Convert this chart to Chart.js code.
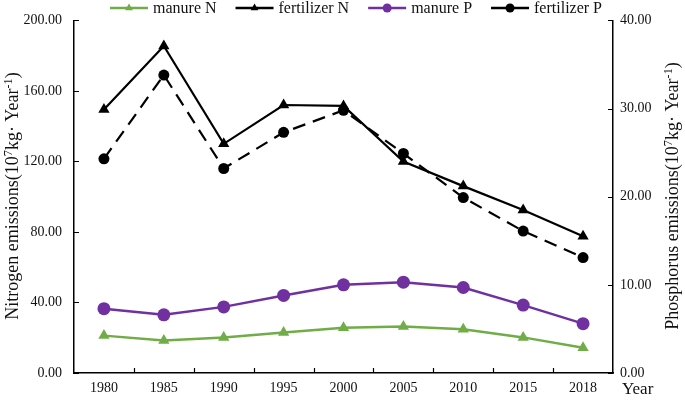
<!DOCTYPE html>
<html>
<head>
<meta charset="utf-8">
<script src="https://cdn.jsdelivr.net/npm/chart.js@4.4.1/dist/chart.umd.min.js"></script>
<style>
  html, body { margin: 0; padding: 0; background: #fff; }
  #wrap { width: 685px; height: 402px; }
</style>
</head>
<body>
<div id="wrap"><canvas id="c"></canvas></div>
<script>
const years = ['1980', '1985', '1990', '1995', '2000', '2005', '2010', '2015', '2018'];

// left axis (10^7 kg/year)
const manureN = [21.2, 18.5, 20.2, 23.0, 25.7, 26.4, 24.8, 20.2, 14.3];
const fertilizerN = [149.5, 185.5, 130.0, 152.0, 151.5, 120.0, 106.0, 92.5, 77.5];

// right axis (10^7 kg/year)
const manureP = [7.3, 6.6, 7.5, 8.8, 10.0, 10.3, 9.7, 7.7, 5.6];
const fertilizerP = [24.3, 33.8, 23.2, 27.3, 29.8, 24.9, 19.9, 16.1, 13.1];

const leftTicks = [0, 40, 80, 120, 160, 200];
const rightTicks = [0, 10, 20, 30, 40];

const SERIF = '"Liberation Serif", "Times New Roman", serif';
const GREEN = '#70ad47';
const PURPLE = '#7030a0';

// rich text with superscripts, drawn centred at (x, y)
function drawRich(ctx, segs, x, y, angle, size) {
    ctx.save();
    ctx.translate(x, y);
    ctx.rotate(angle);
    ctx.textBaseline = 'alphabetic';
    ctx.textAlign = 'left';
    let total = 0;
    segs.forEach(s => {
        ctx.font = (s.sup ? size * 0.68 : size) + 'px ' + SERIF;
        s.w = ctx.measureText(s.t).width;
        total += s.w;
    });
    let cx = -total / 2;
    segs.forEach(s => {
        ctx.font = (s.sup ? size * 0.68 : size) + 'px ' + SERIF;
        ctx.fillText(s.t, cx, size * 0.35 - (s.sup ? size * 0.36 : 0));
        cx += s.w;
    });
    ctx.restore();
}

const extras = {
    id: 'extras',
    afterDraw(chart) {
        const ctx = chart.ctx;
        const area = chart.chartArea;
        const y = chart.scales.y, y1 = chart.scales.y1, x = chart.scales.x;
        ctx.save();
        ctx.strokeStyle = '#000';
        ctx.lineWidth = 1.2;
        // inward tick marks
        ctx.beginPath();
        leftTicks.forEach(v => {
            const p = Math.round(y.getPixelForValue(v)) + 0.5;
            ctx.moveTo(area.left, p); ctx.lineTo(area.left + 5, p);
        });
        rightTicks.forEach(v => {
            const p = Math.round(y1.getPixelForValue(v)) + 0.5;
            ctx.moveTo(area.right, p); ctx.lineTo(area.right - 5, p);
        });
        for (let i = 0; i < years.length - 1; i++) {
            const p = Math.round((x.getPixelForTick(i) + x.getPixelForTick(i + 1)) / 2) + 0.5;
            ctx.moveTo(p, area.bottom); ctx.lineTo(p, area.bottom - 5);
        }
        ctx.stroke();

        // axis titles
        ctx.fillStyle = '#111';
        const unit = () => [{t: 'emissions(10'}, {t: '7', sup: true}, {t: 'kg· Year'}, {t: '-1', sup: true}, {t: ')'}];
        drawRich(ctx, [{t: 'Nitrogen '}].concat(unit()), 12, 196, -Math.PI / 2, 18);
        drawRich(ctx, [{t: 'Phosphorus '}].concat(unit()), 672, 196, -Math.PI / 2, 18);
        ctx.font = '17px ' + SERIF;
        ctx.textAlign = 'left';
        ctx.textBaseline = 'middle';
        ctx.fillText('Year', 622, 390);

        // legend: line with marker
        let lx = 110;
        const ly = 8;
        ctx.font = '16px ' + SERIF;
        chart.data.datasets.forEach(ds => {
            ctx.strokeStyle = ds.borderColor;
            ctx.lineWidth = 2.5;
            ctx.setLineDash([]);
            ctx.beginPath();
            ctx.moveTo(lx, ly); ctx.lineTo(lx + 38, ly);
            ctx.stroke();
            ctx.fillStyle = ds.borderColor;
            Chart.helpers.drawPoint(ctx, {pointStyle: ds.pointStyle, radius: 4.5, borderWidth: 0, rotation: 0}, lx + 19, ly);
            ctx.fillStyle = '#111';
            ctx.textAlign = 'left';
            ctx.textBaseline = 'middle';
            ctx.fillText(ds.label, lx + 43, ly + 1);
            lx += 43 + ctx.measureText(ds.label).width + 19;
        });
        ctx.restore();
    }
};

new Chart(document.getElementById('c'), {
    type: 'line',
    data: {
        labels: years,
        datasets: [
            {
                label: 'manure N', data: manureN, yAxisID: 'y',
                borderColor: GREEN, backgroundColor: GREEN, borderWidth: 2.5,
                pointStyle: 'triangle', pointRadius: 6.5, pointBorderWidth: 0
            },
            {
                label: 'fertilizer N', data: fertilizerN, yAxisID: 'y',
                borderColor: '#000', backgroundColor: '#000', borderWidth: 2.2,
                pointStyle: 'triangle', pointRadius: 6.5, pointBorderWidth: 0
            },
            {
                label: 'manure P', data: manureP, yAxisID: 'y1',
                borderColor: PURPLE, backgroundColor: PURPLE, borderWidth: 2.5,
                pointStyle: 'circle', pointRadius: 6.5, pointBorderWidth: 0
            },
            {
                label: 'fertilizer P', data: fertilizerP, yAxisID: 'y1',
                borderColor: '#000', backgroundColor: '#000', borderWidth: 2.2,
                borderDash: [13, 8],
                pointStyle: 'circle', pointRadius: 5.5, pointBorderWidth: 0
            }
        ]
    },
    options: {
        responsive: true,
        maintainAspectRatio: false,
        animation: false,
        layout: { padding: { top: 13, left: 0, right: 0, bottom: 0 } },
        plugins: {
            legend: { display: false },
            tooltip: { enabled: false }
        },
        scales: {
            x: {
                type: 'category',
                offset: true,
                grid: { display: false, drawTicks: false },
                border: { display: true, color: '#000', width: 1.5 },
                ticks: { color: '#111', font: { family: SERIF, size: 14 }, padding: 7, maxRotation: 0 },
                afterFit: s => { s.height = 29; }
            },
            y: {
                position: 'left',
                min: 0, max: 200,
                grid: { display: false, drawTicks: false },
                border: { display: true, color: '#000', width: 1.5 },
                afterBuildTicks: s => { s.ticks = leftTicks.map(v => ({value: v})); },
                ticks: {
                    color: '#111', font: { family: SERIF, size: 14 }, padding: 12,
                    callback: v => v.toFixed(2)
                },
                afterFit: s => { s.width = 74; }
            },
            y1: {
                position: 'right',
                min: 0, max: 40,
                grid: { display: false, drawTicks: false },
                border: { display: true, color: '#000', width: 1.5 },
                afterBuildTicks: s => { s.ticks = rightTicks.map(v => ({value: v})); },
                ticks: {
                    color: '#111', font: { family: SERIF, size: 14 }, padding: 7,
                    callback: v => v.toFixed(2)
                },
                afterFit: s => { s.width = 72; }
            }
        }
    },
    plugins: [extras]
});
</script>
</body>
</html>
